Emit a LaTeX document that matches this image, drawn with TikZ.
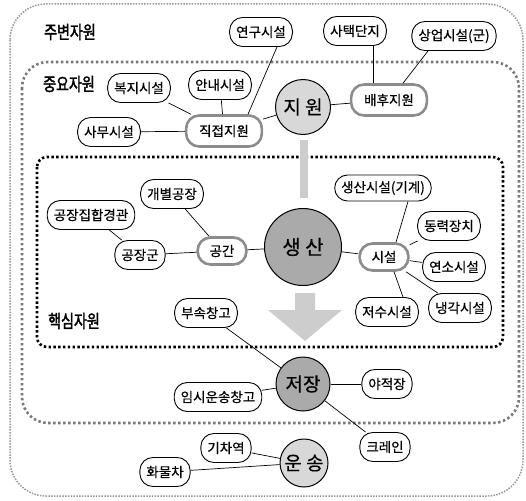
\documentclass[tikz,border=0pt]{standalone}
\usepackage{fontspec}
\setmainfont[FakeBold=0.5]{Noto Sans CJK KR}
\newfontfamily\zonefont[FakeStretch=0.78,FakeBold=2]{Noto Sans CJK KR}
\definecolor{OuterGray}{RGB}{150,150,150}
\definecolor{MidGray}{RGB}{120,120,120}
\definecolor{HubGray}{RGB}{140,140,140}
\definecolor{LightFill}{RGB}{216,216,216}
\definecolor{DarkFill}{RGB}{170,170,170}
\definecolor{ArrowGray}{RGB}{205,205,205}
\usepackage{tikz}

\begin{document}
\begin{tikzpicture}[x=1pt, y=-1pt,
  leaf/.style={draw, rounded corners=13pt, fill=white, line width=0.9pt, font=\fontsize{13.5}{13.5}\selectfont, minimum height=29pt, inner xsep=6.5pt},
  hub/.style={leaf, draw=HubGray, line width=2.6pt, inner xsep=13pt, minimum height=31pt},
  core/.style={draw, circle, line width=1pt, font=\fontsize{19}{19}\selectfont, inner sep=0pt},
  link/.style={line width=0.7pt},
  zone/.style={font=\zonefont\fontsize{18}{18}\selectfont}]
\useasboundingbox (0,0) rectangle (526,500);
\draw[OuterGray, line width=1.5pt, dash pattern=on 1.5pt off 1.3pt, rounded corners=36pt] (10,4) rectangle (523,496);
\draw[MidGray, line width=2.6pt, dash pattern=on 2.4pt off 2.6pt, rounded corners=26pt] (22,62) rectangle (519,423);
\draw[black, line width=2.6pt, dash pattern=on 2.4pt off 2.4pt, rounded corners=10pt] (37,157) rectangle (503,347);
\node[zone] (outerlbl) at (70,32) {주변자원};
\node[zone] (midlbl) at (69,84) {중요자원};
\node[zone] (corelbl) at (74,321) {핵심자원};

\fill[ArrowGray] (300,140) rectangle (308,198);
\fill[ArrowGray] (295,293) -- (315,293) -- (315,310) -- (342,310) -- (305,341) -- (268,310) -- (295,310) -- cycle;

\node[core, fill=LightFill, minimum size=55pt] (jiwon) at (303,107) {지 원};
\node[core, fill=DarkFill, minimum size=77pt, font=\fontsize{20}{20}\selectfont] (saengsan) at (303,247) {생 산};
\node[core, fill=DarkFill, minimum size=54pt] (jeojang) at (303,384) {저장};
\node[core, fill=LightFill, minimum size=48pt] (unsong) at (304,463) {운 송};

\node[leaf] (yeongu) at (261,32) {연구시설};
\node[leaf] (sataek) at (355,31) {사택단지};
\node[leaf] (sangeop) at (454,36) {상업시설(군)};
\node[hub] (baehu) at (389,100) {배후지원};
\node[leaf] (bokji) at (139,88) {복지시설};
\node[leaf] (annae) at (220,85) {안내시설};
\node[leaf] (samu) at (109,132) {사무시설};
\node[hub] (jikjeop) at (224,131) {직접지원};

\node[hub, minimum height=27pt, inner xsep=12pt] (gonggan) at (222,251) {공간};
\node[leaf] (gongjanggun) at (140,255) {공장군};
\node[leaf] (gyeonggwan) at (91,215) {공장집합경관};
\node[leaf] (gaebyeol) at (172,194) {개별공장};
\node[hub, minimum height=27pt, inner xsep=12pt] (siseol) at (384,257) {시설};
\node[leaf, minimum height=26pt] (gigye) at (383,188) {생산시설(기계)};
\node[leaf] (dongryeok) at (449,226) {동력장치};
\node[leaf] (yeonso) at (454,267) {연소시설};
\node[leaf] (naenggak) at (460,308) {냉각시설};
\node[leaf] (jeosu) at (387,312) {저수시설};

\node[leaf] (busok) at (206,313) {부속창고};
\node[leaf] (imsi) at (218,397) {임시운송창고};
\node[leaf] (yajeok) at (387,384) {야적장};
\node[leaf] (crane) at (385,447) {크레인};
\node[leaf] (gicha) at (226,448) {기차역};
\node[leaf] (hwamul) at (165,472) {화물차};

\draw[link] (bokji) -- (jikjeop);
\draw[link] (annae) -- (jikjeop);
\draw[link] (samu) -- (jikjeop);
\draw[link] ([xshift=24pt]jikjeop.north) -- ([xshift=16pt]yeongu.south);
\draw[link] (jikjeop) -- (jiwon);
\draw[link] (jiwon) -- (baehu);
\draw[link] ([xshift=-16pt]baehu.north) -- ([xshift=18pt]sataek.south);
\draw[link] ([xshift=14pt]baehu.north) -- ([xshift=-26pt]sangeop.south);
\draw[link] (gyeonggwan) -- (gongjanggun);
\draw[link] (gongjanggun) -- (gonggan);
\draw[link] (gaebyeol) -- (gonggan);
\draw[link] (gonggan) -- (saengsan);
\draw[link] (saengsan) -- (siseol);
\draw[link] ([xshift=12pt]siseol.north) -- ([xshift=25pt]gigye.south);
\draw[link] (siseol) -- (dongryeok);
\draw[link] (siseol) -- (yeonso);
\draw[link] (siseol) -- (naenggak);
\draw[link] ([xshift=10pt]siseol.south) -- ([xshift=16pt]jeosu.north);
\draw[link] (busok) -- (jeojang);
\draw[link] (imsi) -- (jeojang);
\draw[link] (jeojang) -- (yajeok);
\draw[link] (jeojang) -- (crane);
\draw[link] (gicha) -- (unsong);
\draw[link] (hwamul) -- (unsong);
\end{tikzpicture}
\end{document}
